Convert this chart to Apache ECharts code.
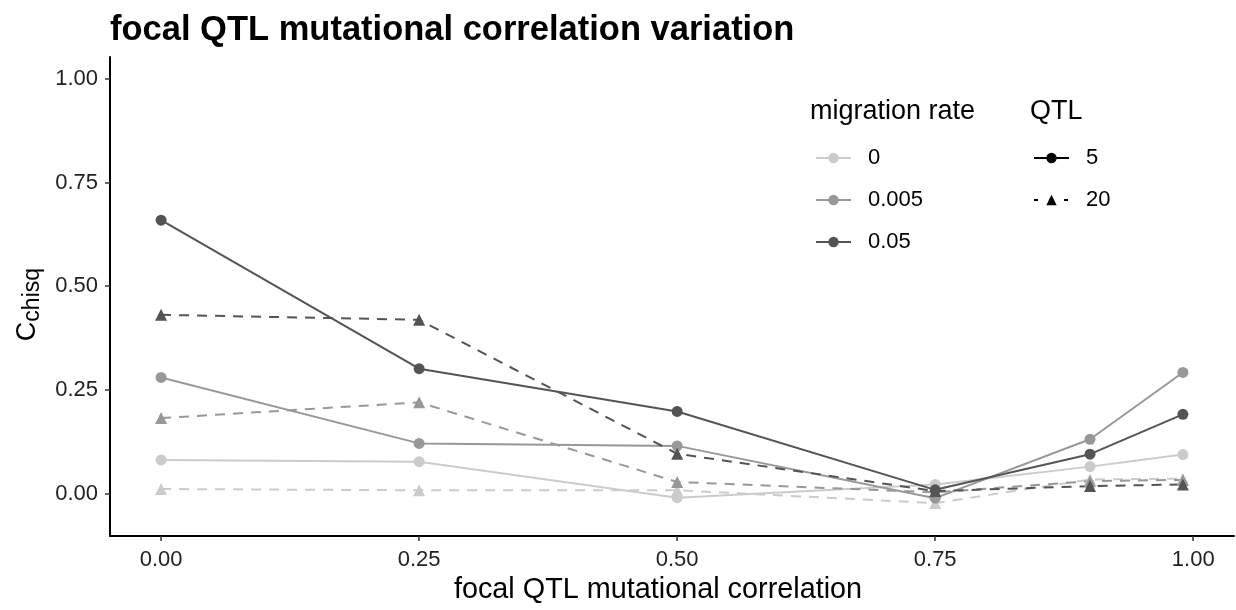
<!DOCTYPE html>
<html>
<head>
<meta charset="utf-8">
<title>focal QTL mutational correlation variation</title>
<script src="https://cdn.jsdelivr.net/npm/echarts@6/dist/echarts.min.js"></script>
<style>
  html, body { margin: 0; padding: 0; background: #ffffff; }
  #chart { width: 1236px; height: 610px; }
</style>
</head>
<body>
<div id="chart"></div>
<script>
// focal QTL mutational correlation (x) and C_chisq per migration rate / QTL count
const correlation = [0, 0.25, 0.5, 0.75, 0.9, 0.99];

const mig0_qtl5    = [0.081, 0.077, -0.010, 0.022, 0.065, 0.094];
const mig0_qtl20   = [0.011, 0.008, 0.008, -0.023, 0.034, 0.036];
const mig005_qtl5  = [0.280, 0.121, 0.115, -0.011, 0.131, 0.292];
const mig005_qtl20 = [0.182, 0.220, 0.028, 0.003, 0.030, 0.033];
const mig05_qtl5   = [0.659, 0.301, 0.198, 0.009, 0.095, 0.191];
const mig05_qtl20  = [0.431, 0.419, 0.096, 0.006, 0.018, 0.022];

const migrationRates = ['0', '0.005', '0.05'];
const qtlCounts = ['5', '20'];
const tickValues = [0, 0.25, 0.5, 0.75, 1];

const greys = { '0': '#cbcbcb', '0.005': '#989898', '0.05': '#545454' };
const FONT = '"Liberation Sans", Arial, Helvetica, sans-serif';
const DASH = [10, 8];

function pairs(ys) {
  return correlation.map((x, i) => [x, ys[i]]);
}

function dataSeries(rate, qtl, ys) {
  const dashed = qtl === '20';
  return {
    name: rate + ' / ' + qtl,
    type: 'line',
    data: pairs(ys),
    symbol: dashed ? 'triangle' : 'circle',
    symbolSize: dashed ? 12 : 11,
    color: greys[rate],
    lineStyle: { width: 2, type: dashed ? DASH : 'solid', color: greys[rate] },
    itemStyle: { color: greys[rate] },
    emphasis: { disabled: true },
    animation: false
  };
}

// empty series that only feed the two legends
function keySeries(name, color, symbol, dash) {
  return {
    name: name,
    type: 'line',
    data: [],
    symbol: symbol,
    color: color,
    lineStyle: { width: 2.2, type: dash, color: color },
    itemStyle: { color: color },
    animation: false
  };
}

const series = [
  dataSeries('0', '5', mig0_qtl5),
  dataSeries('0', '20', mig0_qtl20),
  dataSeries('0.005', '5', mig005_qtl5),
  dataSeries('0.005', '20', mig005_qtl20),
  dataSeries('0.05', '5', mig05_qtl5),
  dataSeries('0.05', '20', mig05_qtl20),
  keySeries('0', greys['0'], 'circle', 'solid'),
  keySeries('0.005', greys['0.005'], 'circle', 'solid'),
  keySeries('0.05', greys['0.05'], 'circle', 'solid'),
  keySeries('5', '#000000', 'circle', 'solid'),
  keySeries('20', '#000000', 'triangle', [4, 11])
];

const axisText = { fontFamily: FONT, fontSize: 22, color: '#222222' };
const legendText = { fontFamily: FONT, fontSize: 22, color: '#000000', padding: [0, 0, 0, 12] };
const chart = echarts.init(document.getElementById('chart'), null, { renderer: 'canvas' });

chart.setOption({
  backgroundColor: '#ffffff',
  textStyle: { fontFamily: FONT },
  title: [
    {
      text: 'focal QTL mutational correlation variation',
      left: 105, top: 8,
      textStyle: { fontFamily: FONT, fontSize: 34.5, fontWeight: 'bold', color: '#000000' }
    },
    {
      text: 'migration rate',
      left: 805, top: 93,
      textStyle: { fontFamily: FONT, fontSize: 27, fontWeight: 'normal', color: '#000000' }
    },
    {
      text: 'QTL',
      left: 1025, top: 93,
      textStyle: { fontFamily: FONT, fontSize: 27, fontWeight: 'normal', color: '#000000' }
    }
  ],
  legend: [
    {
      data: migrationRates,
      orient: 'vertical',
      left: 810, top: 142,
      itemWidth: 35, itemHeight: 13, itemGap: 20,
      selectedMode: false,
      textStyle: legendText
    },
    {
      data: qtlCounts,
      orient: 'vertical',
      left: 1028, top: 142,
      itemWidth: 35, itemHeight: 13, itemGap: 20,
      selectedMode: false,
      textStyle: legendText
    }
  ],
  grid: { left: 110, right: 2, top: 57, bottom: 67, containLabel: false },
  xAxis: {
    type: 'value',
    min: -0.0495, max: 1.0395,
    name: 'focal QTL mutational correlation',
    nameLocation: 'middle',
    nameGap: 39,
    nameTextStyle: { fontFamily: FONT, fontSize: 28.8, color: '#000000', padding: [0, 28, 0, 0] },
    axisLine: { show: true, onZero: false, lineStyle: { color: '#000000', width: 2 } },
    axisTick: { show: true, length: 5, customValues: tickValues, lineStyle: { color: '#333333', width: 1.5 } },
    axisLabel: {
      customValues: tickValues, margin: 13, ...axisText,
      formatter: v => v.toFixed(2)
    },
    splitLine: { show: false }
  },
  yAxis: {
    type: 'value',
    min: -0.1025, max: 1.0525,
    name: '{c|C}{s|chisq}',
    nameLocation: 'middle',
    nameRotate: 90,
    nameGap: 48,
    nameTextStyle: {
      fontFamily: FONT, color: '#000000',
      padding: [0, 16, 0, 0],
      rich: {
        c: { fontFamily: FONT, fontSize: 27, color: '#000000', lineHeight: 33 },
        s: { fontFamily: FONT, fontSize: 23, color: '#000000', verticalAlign: 'bottom', lineHeight: 24 }
      }
    },
    axisLine: { show: true, onZero: false, lineStyle: { color: '#000000', width: 2 } },
    axisTick: { show: true, length: 5, customValues: tickValues, lineStyle: { color: '#333333', width: 1.5 } },
    axisLabel: {
      customValues: tickValues, margin: 12, ...axisText,
      formatter: v => v.toFixed(2)
    },
    splitLine: { show: false }
  },
  series: series
});
</script>
</body>
</html>
